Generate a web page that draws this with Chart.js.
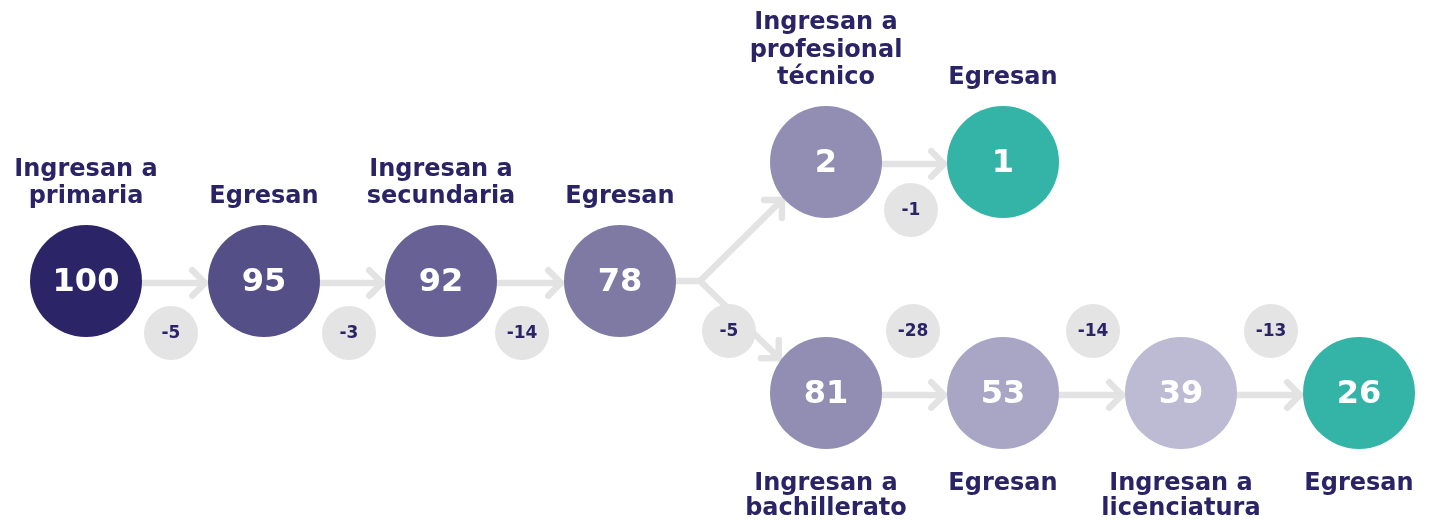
<!DOCTYPE html>
<html>
<head>
<meta charset="utf-8">
<script src="https://cdn.jsdelivr.net/npm/chart.js@4/dist/chart.umd.min.js"></script>
<style>
    body { margin: 0; background: #ffffff; }
    #wrap { width: 1432px; height: 520px; position: relative; }
</style>
</head>
<body>
<div id="wrap"><canvas id="flowChart"></canvas></div>
<script>
// valores del flujo escolar (de cada 100 que ingresan a primaria)
const nodeValues = [100, 95, 92, 78, 2, 1, 81, 53, 39, 26];
const nodeLabels = [
    ["Ingresan a", "primaria"],
    ["Egresan"],
    ["Ingresan a", "secundaria"],
    ["Egresan"],
    ["Ingresan a", "profesional", "técnico"],
    ["Egresan"],
    ["Ingresan a", "bachillerato"],
    ["Egresan"],
    ["Ingresan a", "licenciatura"],
    ["Egresan"],
];
const dropValues = [-5, -3, -14, -5, -1, -28, -14, -13];
const edges = [[0, 1], [1, 2], [2, 3], [4, 5], [6, 7], [7, 8], [8, 9]];

// layout (pixel units of the hidden axes)
const nodeX = [86, 264, 441, 620, 826, 1003, 826, 1003, 1181, 1359];
const nodeY = [281, 281, 281, 281, 162, 162, 393, 393, 393, 393];
const labelBelow = [false, false, false, false, false, false, true, true, true, true];
const dropX = [171, 349, 522, 729, 911, 913, 1093, 1271];
const dropY = [333, 333, 333, 331, 210, 331, 331, 331];
const nodeColors = ["#2b2567", "#554f87", "#676195", "#7f7aa4", "#928eb3",
    "#34b3a7", "#928eb3", "#a9a6c5", "#bdbad3", "#34b3a7"];

const NODE_R = 56;
const DROP_R = 27;
const ARROW_COLOR = "#e3e3e3";
const TEXT_COLOR = "#2a2466";
const FONT = "'DejaVu Sans', sans-serif";

/**
 * chevron arrow head at tip, pointing along angle
 */
function _head(tipX, tipY, angle) {
    const len = 18;
    const a1 = angle + Math.PI * 0.75;
    const a2 = angle - Math.PI * 0.75;
    return [
        { x: tipX + len * Math.cos(a1), y: tipY + len * Math.sin(a1) },
        { x: tipX, y: tipY },
        { x: tipX + len * Math.cos(a2), y: tipY + len * Math.sin(a2) },
    ];
}

function _arrowDataset(points) {
    return {
        type: "line",
        data: points,
        borderColor: ARROW_COLOR,
        borderWidth: 6.5,
        borderCapStyle: "round",
        borderJoinStyle: "round",
        pointRadius: 0,
        fill: false,
        tension: 0,
        order: 3,
    };
}

const arrowSets = [];
for (const [from, to] of edges) {
    const y = nodeY[from] + 2;
    const tipX = nodeX[to] - NODE_R - 3;
    arrowSets.push(_arrowDataset([{ x: nodeX[from], y: y }, { x: tipX, y: y }]));
    arrowSets.push(_arrowDataset(_head(tipX, y, 0)));
}

// branch after secundaria
const forkX = 700;
const upTip = { x: 782, y: 200 };
const downTip = { x: 779, y: 358 };
arrowSets.push(_arrowDataset([{ x: nodeX[3], y: nodeY[3] }, { x: forkX, y: nodeY[3] }]));
arrowSets.push(_arrowDataset([{ x: forkX, y: nodeY[3] }, upTip]));
arrowSets.push(_arrowDataset(_head(upTip.x, upTip.y, Math.atan2(upTip.y - nodeY[3], upTip.x - forkX))));
arrowSets.push(_arrowDataset([{ x: forkX, y: nodeY[3] }, downTip]));
arrowSets.push(_arrowDataset(_head(downTip.x, downTip.y, Math.atan2(downTip.y - nodeY[3], downTip.x - forkX))));

const nodeData = nodeValues.map((v, i) => ({ x: nodeX[i], y: nodeY[i], r: NODE_R, v: v }));
const dropData = dropValues.map((v, i) => ({ x: dropX[i], y: dropY[i], r: DROP_R, v: v }));

const textPlugin = {
    id: "flowText",
    afterDatasetsDraw(chart) {
        const ctx = chart.ctx;
        const xs = chart.scales.x;
        const ys = chart.scales.y;
        ctx.save();
        ctx.textAlign = "center";
        ctx.textBaseline = "middle";

        ctx.fillStyle = "#ffffff";
        ctx.font = "bold 32px " + FONT;
        nodeData.forEach((p) => {
            ctx.fillText(String(p.v), xs.getPixelForValue(p.x), ys.getPixelForValue(p.y) + 2);
        });

        ctx.fillStyle = TEXT_COLOR;
        ctx.font = "bold 17px " + FONT;
        dropData.forEach((p) => {
            ctx.fillText(String(p.v), xs.getPixelForValue(p.x), ys.getPixelForValue(p.y) + 1);
        });

        ctx.font = "bold 24px " + FONT;
        nodeLabels.forEach((lines, i) => {
            const cx = xs.getPixelForValue(nodeX[i]);
            const cy = ys.getPixelForValue(nodeY[i]);
            let startY, lineH;
            if (labelBelow[i]) {
                lineH = 25;
                startY = cy + 91;
            } else {
                lineH = 27.5;
                startY = cy - 84 - (lines.length - 1) * lineH;
            }
            lines.forEach((t, k) => ctx.fillText(t, cx, startY + k * lineH));
        });
        ctx.restore();
    },
};

new Chart(document.getElementById("flowChart"), {
    data: {
        datasets: [
            ...arrowSets,
            {
                type: "bubble",
                data: dropData,
                backgroundColor: "#e4e4e4",
                borderWidth: 0,
                order: 2,
            },
            {
                type: "bubble",
                data: nodeData,
                backgroundColor: nodeColors,
                borderWidth: 0,
                order: 1,
            },
        ],
    },
    options: {
        responsive: true,
        maintainAspectRatio: false,
        animation: false,
        events: [],
        layout: { padding: 0, autoPadding: false },
        plugins: {
            legend: { display: false },
            tooltip: { enabled: false },
        },
        scales: {
            x: { type: "linear", min: 0, max: 1432, display: false },
            y: { type: "linear", min: 0, max: 520, reverse: true, display: false },
        },
    },
    plugins: [textPlugin],
});
</script>
</body>
</html>
